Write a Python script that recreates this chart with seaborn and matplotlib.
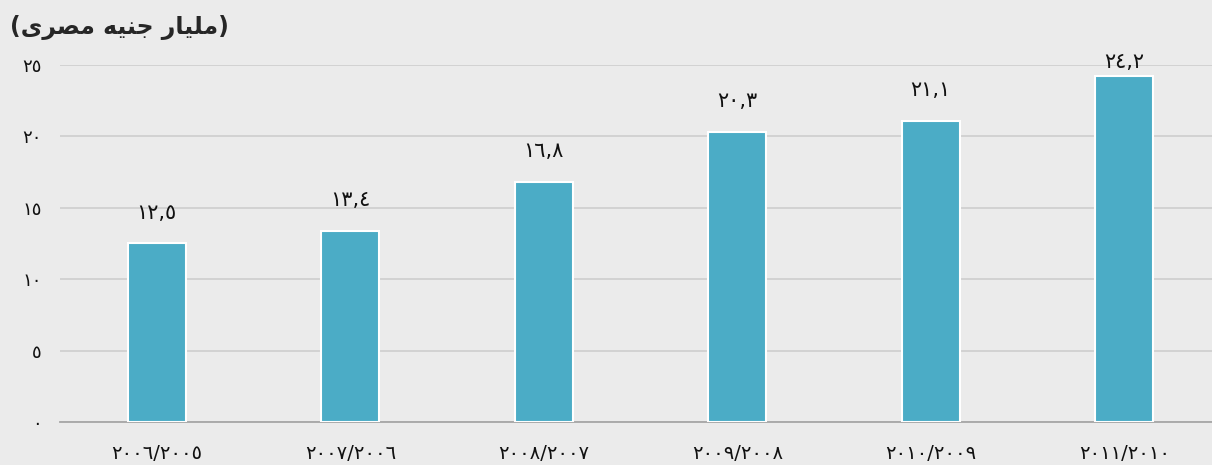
import pandas as pd
import seaborn as sns
import matplotlib.pyplot as plt

# fiscal years (Arabic-Indic digits) and values in billion EGP
periods = ["٢٠٠٦/٢٠٠٥", "٢٠٠٧/٢٠٠٦", "٢٠٠٨/٢٠٠٧", "٢٠٠٩/٢٠٠٨", "٢٠١٠/٢٠٠٩", "٢٠١١/٢٠١٠"]
values = [12.5, 13.4, 16.8, 20.3, 21.1, 24.2]
value_labels = ["١٢,٥", "١٣,٤", "١٦,٨", "٢٠,٣", "٢١,١", "٢٤,٢"]
y_ticks = [0, 5, 10, 15, 20, 25]
y_tick_labels = ["٠", "٥", "١٠", "١٥", "٢٠", "٢٥"]

# "(مليار جنيه مصرى)" written in visual order with presentation forms,
# matplotlib does no Arabic shaping / bidi on its own
title = ("(" + "\uFEEF\uFEAE\uFEBC\uFEE3" + " " + "\uFEEA\uFEF4\uFEE8\uFE9F" + " "
         + "\uFEAD\uFE8E\uFEF4\uFEE0\uFEE3" + ")")

bg = "#ebebeb"
sns.set_style("white", {"axes.facecolor": bg, "figure.facecolor": bg})
plt.rcParams['font.family'] = ['DejaVu Sans']

df = pd.DataFrame({"period": periods, "value": values})

fig = plt.figure(figsize=(12.12, 4.65), dpi=100)
ax = fig.add_axes([0.0495, 0.0925, 0.958, 0.768])

sns.barplot(data=df, x="period", y="value", ax=ax, color="#4bacc6",
            saturation=1, width=0.3, edgecolor="white", linewidth=1.5, zorder=3)

texts = ax.bar_label(ax.containers[0], labels=value_labels, padding=15,
                     fontsize=15, color="#111111")
# the top label is squeezed against the plot top
texts[-1].xyann = (0, 3)

ax.set_ylim(0, 25)
ax.set_xlim(-0.5, len(periods) - 0.5)
ax.set_yticks(y_ticks)
ax.set_yticklabels(y_tick_labels, fontsize=13, color="#111111")
ax.yaxis.grid(True, color="#d0d0d0", linewidth=1.3, zorder=0)
ax.tick_params(axis="y", length=0, pad=13)

# ticks between categories, labels centred under bars
ax.set_xticks([i - 0.5 for i in range(len(periods) + 1)])
ax.set_xticklabels([])
ax.set_xticks(range(len(periods)), minor=True)
ax.set_xticklabels(periods, minor=True, fontsize=14, color="#111111")
ax.tick_params(axis="x", which="major", length=7, width=1.2, color="#a6a6a6")
ax.tick_params(axis="x", which="minor", length=0, pad=16)

for side in ["left", "right", "top"]:
    ax.spines[side].set_visible(False)
ax.spines["bottom"].set_color("#a6a6a6")
ax.spines["bottom"].set_linewidth(1.3)
ax.set_xlabel("")
ax.set_ylabel("")

fig.text(0.008, 0.94, title, fontsize=17, fontweight="bold", ha="left", va="center")

fig.savefig("out.png", dpi=100, facecolor=bg)
